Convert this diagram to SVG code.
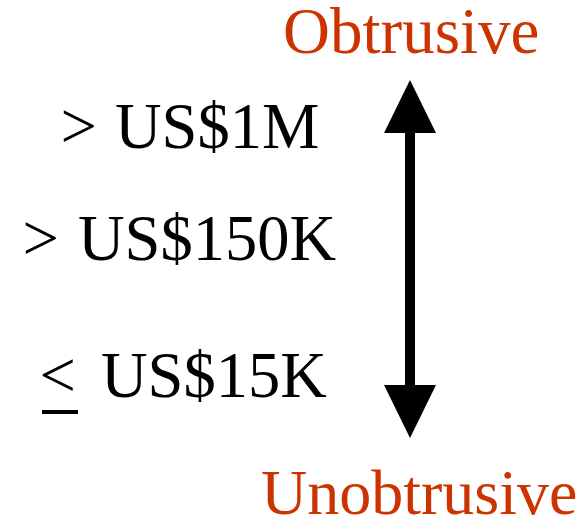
<svg xmlns="http://www.w3.org/2000/svg" width="584" height="523" viewBox="0 0 584 523">
  <style>
    .lbl { font-family: "Liberation Serif", "Times New Roman", serif; font-size: 64.5px; fill: #000; }
    .end { font-family: "Liberation Serif", "Times New Roman", serif; font-size: 65px; fill: #cc3300; }
  </style>
  <rect width="584" height="523" fill="#fff"/>

  <!-- scale ends -->
  <g id="top-label"><text class="end" x="283" y="53">Obtrusive</text></g>
  <g id="bottom-label"><text class="end" x="261" y="514" style="font-size:64px">Unobtrusive</text></g>

  <!-- cost levels -->
  <g id="cost-1m"><text class="lbl" y="148"><tspan x="60.5">&gt;</tspan><tspan x="115">US$1M</tspan></text></g>
  <g id="cost-150k"><text class="lbl" y="260"><tspan x="22.5">&gt;</tspan><tspan x="78">US$150K</tspan></text></g>
  <g id="cost-15k">
    <text class="lbl" y="397"><tspan x="39.5">&lt;</tspan><tspan x="101">US$15K</tspan></text>
    <rect x="42" y="410" width="36" height="4" fill="#000"/>
  </g>

  <!-- double-headed scale arrow -->
  <g id="connectors">
    <rect x="405" y="130" width="10" height="258" fill="#000"/>
    <polygon points="410,80 436,133 384,133" fill="#000"/>
    <polygon points="410,438 436,385 384,385" fill="#000"/>
  </g>
</svg>
